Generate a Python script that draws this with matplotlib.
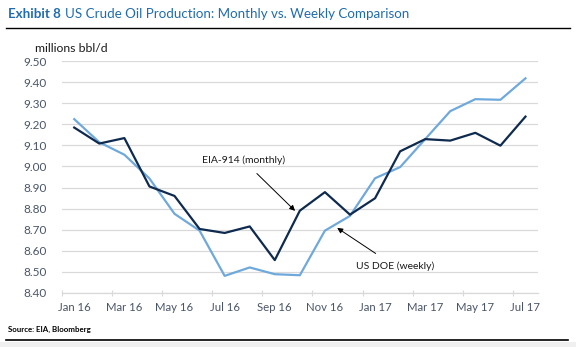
import matplotlib.pyplot as plt
import matplotlib.patches as mpatches
import numpy as np

plt.rcParams['font.family'] = ['Lato', 'DejaVu Sans']

months = ['Jan 16', 'Feb 16', 'Mar 16', 'Apr 16', 'May 16', 'Jun 16', 'Jul 16', 'Aug 16',
          'Sep 16', 'Oct 16', 'Nov 16', 'Dec 16', 'Jan 17', 'Feb 17', 'Mar 17', 'Apr 17',
          'May 17', 'Jun 17', 'Jul 17']
eia_monthly = [9.185, 9.109, 9.135, 8.905, 8.860, 8.703, 8.684, 8.715, 8.555, 8.790,
               8.878, 8.771, 8.849, 9.072, 9.130, 9.123, 9.160, 9.099, 9.237]
doe_weekly = [9.225, 9.115, 9.056, 8.943, 8.775, 8.695, 8.480, 8.520, 8.488, 8.483,
              8.695, 8.765, 8.944, 8.997, 9.130, 9.263, 9.320, 9.317, 9.419]
yticks = [8.40, 8.50, 8.60, 8.70, 8.80, 8.90, 9.00, 9.10, 9.20, 9.30, 9.40, 9.50]

dark = '#0e2a4f'
light = '#6fa9dc'
lab_col = '#4a5568'

fig = plt.figure(figsize=(5.76, 3.47), dpi=100)
ax = fig.add_axes([61.7/576, 1-292.7/347, (538-61.7)/576, (292.7-61.3)/347])

x = np.arange(len(months))
ax.plot(x, doe_weekly, color=light, lw=1.6, zorder=3)
ax.plot(x, eia_monthly, color=dark, lw=1.6, zorder=4)

ax.set_xlim(-0.5, len(months) - 0.5)
ax.set_ylim(8.40, 9.50)
ax.set_yticks(yticks)
ax.set_yticklabels(['%.2f' % v for v in yticks])
ax.yaxis.grid(True, color='#d9d9d9', lw=0.9)
ax.set_axisbelow(True)
for s in ['top', 'right', 'left']:
    ax.spines[s].set_visible(False)
ax.spines['bottom'].set_color('#d9d9d9')
ax.spines['bottom'].set_linewidth(0.9)

ax.set_xticks(np.arange(-0.5, len(months) - 1, 2))
ax.set_xticklabels([])
ax.set_xticks(x[::2], minor=True)
ax.set_xticklabels(months[::2], minor=True)
ax.tick_params(axis='x', which='major', direction='inout', length=4, color='#d9d9d9')
ax.tick_params(axis='x', which='minor', length=0, pad=7, labelsize=8.2, labelcolor=lab_col)
ax.tick_params(axis='y', length=0, pad=11, labelsize=8.5, labelcolor=lab_col)

ax.annotate('EIA-914 (monthly)', xy=(8.81, 8.789), xytext=(6.74, 9.03),
            fontsize=7.5, color='#1a1a1a', ha='center', va='center',
            arrowprops=dict(arrowstyle='-|>', color='black', lw=0.7,
                            mutation_scale=8, shrinkA=6, shrinkB=0))
ax.annotate('US DOE (weekly)', xy=(10.49, 8.708), xytext=(12.8, 8.525),
            fontsize=7.5, color='#1a1a1a', ha='center', va='center',
            arrowprops=dict(arrowstyle='-|>', color='black', lw=0.7,
                            mutation_scale=8, shrinkA=7, shrinkB=0))

fig.text(35/576, 1-48/347, 'millions bbl/d', fontsize=8.8, color='#1a1a1a', va='center')

# title
t1 = fig.text(8/576, 1-14/347, 'Exhibit 8', fontsize=9.6, fontweight='bold',
              color='#1f6cb0', va='center')
fig.canvas.draw()
bb = t1.get_window_extent()
fig.text(bb.x1/576 + 4/576, 1-14/347, 'US Crude Oil Production: Monthly vs. Weekly Comparison',
         fontsize=9.6, color='#1f6cb0', va='center')

fig.add_artist(plt.Line2D([6/576, 570/576], [1-28.3/347, 1-28.3/347], color='black', lw=1.0))
fig.add_artist(plt.Line2D([6/576, 568/576], [1-340/347, 1-340/347], color='black', lw=1.2))
fig.add_artist(mpatches.Rectangle((0, 0), 1, 5/347, transform=fig.transFigure,
                                  color='#f0f0f0', lw=0))
fig.text(8/576, 1-329/347, 'Source: EIA, Bloomberg', fontsize=5.7, fontweight='bold',
         color='black', va='center')

fig.savefig('out.png', dpi=100)
